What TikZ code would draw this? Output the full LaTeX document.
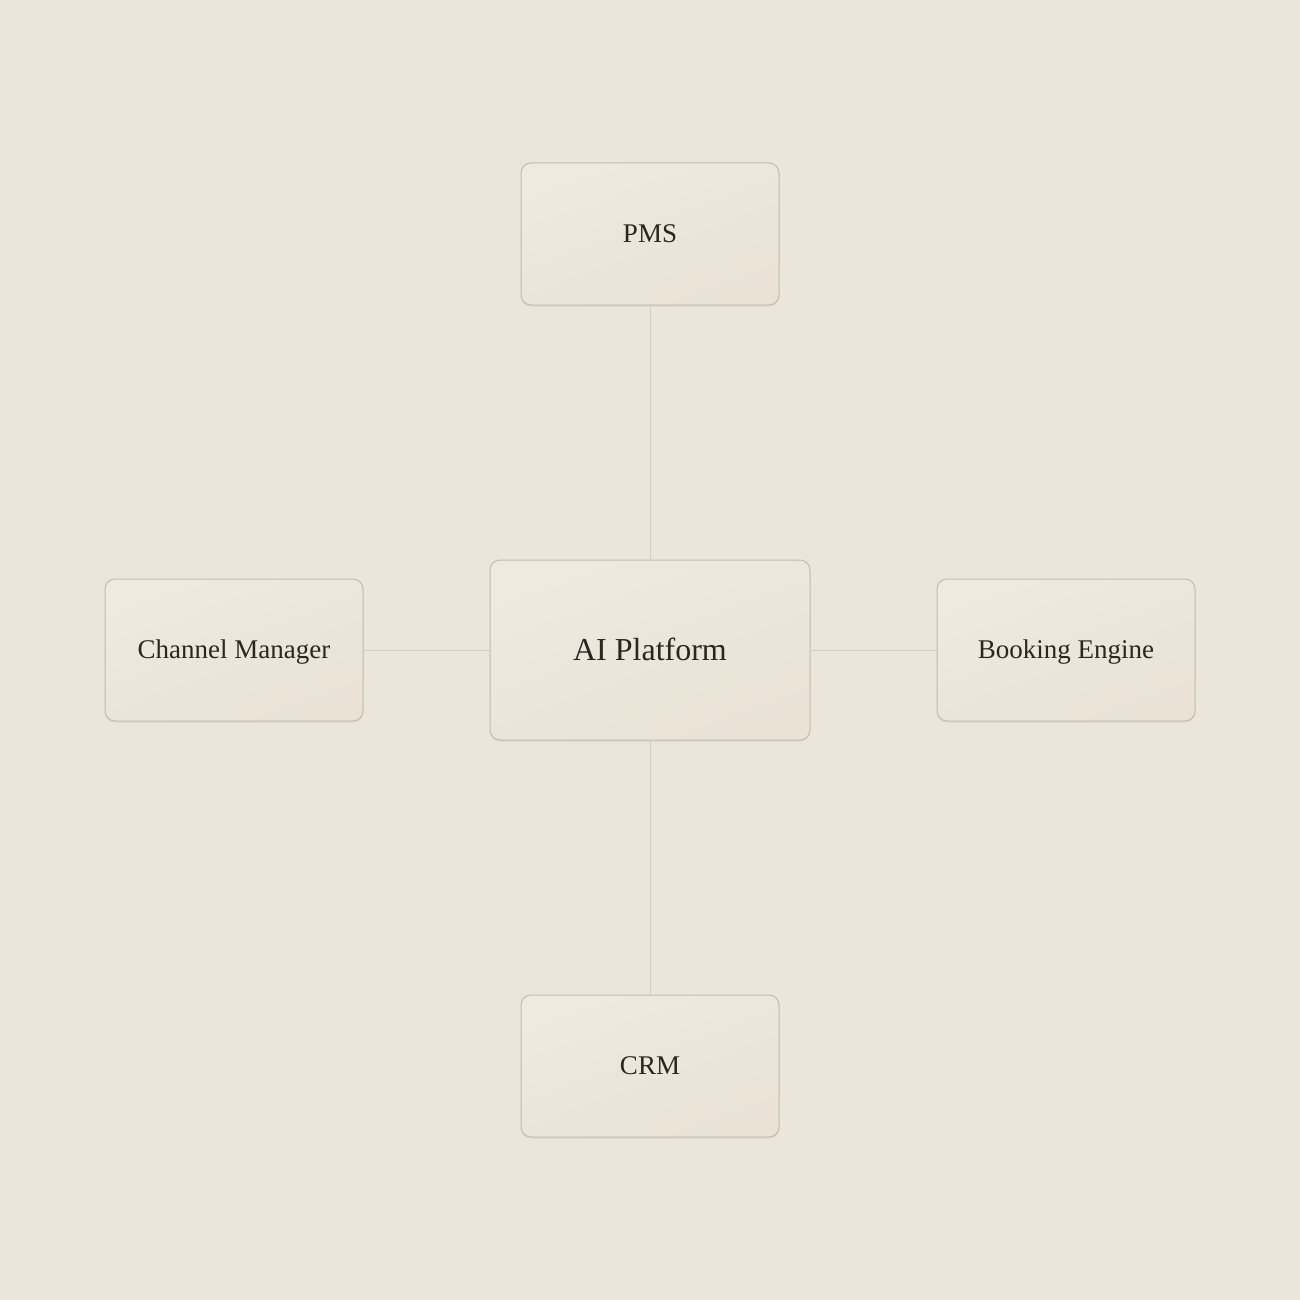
\documentclass[tikz,border=0pt]{standalone}
\usepackage{fontspec}
\setmainfont{Liberation Serif}
\definecolor{bgc}{HTML}{EBE6DB}
\definecolor{boxtop}{HTML}{EFE9DF}
\definecolor{boxbot}{HTML}{E9E2D5}
\definecolor{boxline}{HTML}{C2BAAE}
\definecolor{shadc}{HTML}{E3DDD1}
\definecolor{linkc}{HTML}{D2CCC1}
\definecolor{txt}{HTML}{2A2620}
\tikzset{
  sysbox/.style={rectangle, rounded corners=10pt, draw=boxline, line width=1pt,
    top color=boxtop, bottom color=boxbot, shading angle=20,
    minimum width=258pt, minimum height=142pt, inner sep=0pt,
    text height=17.9pt, text depth=0pt,
    text=txt, font=\fontsize{27}{31}\selectfont,
    preaction={fill=shadc, transform canvas={yshift=-2pt}}},
  hubbox/.style={sysbox, minimum width=320pt, minimum height=180pt,
    text height=21.2pt, font=\fontsize{32}{36}\selectfont},
  link/.style={draw=linkc, line width=1pt}
}
\begin{document}
\begin{tikzpicture}[x=1pt,y=-1pt]
\fill[bgc] (0,0) rectangle (1300,1300);
\useasboundingbox (0,0) rectangle (1300,1300);
\node[hubbox] (hub) at (650,650) {AI Platform};
\node[sysbox] (pms) at (650,234) {PMS};
\node[sysbox] (crm) at (650,1066) {CRM};
\node[sysbox] (cm) at (234,650) {Channel Manager};
\node[sysbox] (be) at (1066,650) {Booking Engine};
\draw[link] (pms.south) -- (hub.north);
\draw[link] (hub.south) -- (crm.north);
\draw[link] (cm.east) -- (hub.west);
\draw[link] (hub.east) -- (be.west);
\end{tikzpicture}
\end{document}
